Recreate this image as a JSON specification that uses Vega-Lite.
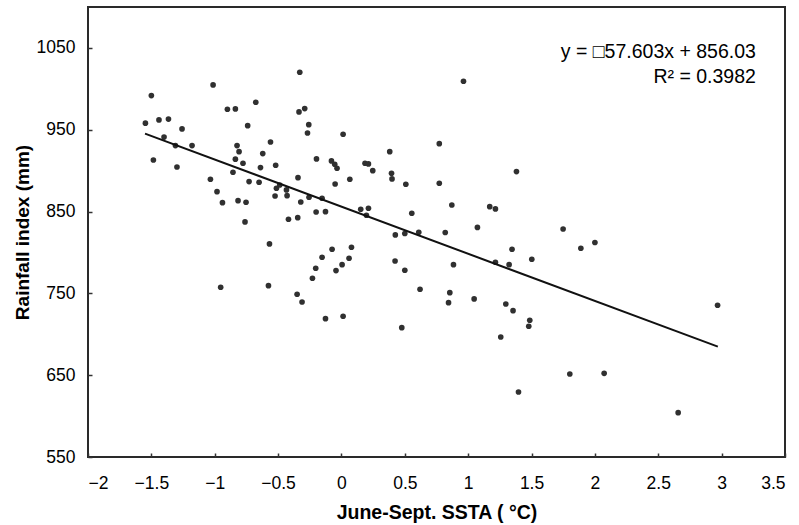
{
  "$schema": "https://vega.github.io/schema/vega-lite/v6.json",
  "width": 697,
  "height": 450,
  "autosize": {"type": "none"},
  "padding": {"left": 88, "top": 7, "right": 14, "bottom": 68},
  "background": "white",
  "config": {
    "view": {"stroke": "#2a2a2a", "strokeWidth": 2},
    "font": "Liberation Sans",
    "axis": {
      "domain": false,
      "grid": false,
      "labelFont": "Liberation Sans",
      "labelFontSize": 17.5,
      "labelColor": "#000",
      "titleFont": "Liberation Sans",
      "titleFontWeight": "bold",
      "titleColor": "#000",
      "tickColor": "#333",
      "tickWidth": 1.5,
      "tickSize": -4
    }
  },
  "datasets": {
    "pts": [
      {"ssta": -1.50, "rain": 991.7}, {"ssta": -1.547, "rain": 958}, {"ssta": -1.44, "rain": 962}, {"ssta": -1.365, "rain": 963},
      {"ssta": -1.258, "rain": 951}, {"ssta": -1.40, "rain": 941}, {"ssta": -1.31, "rain": 930.6}, {"ssta": -1.179, "rain": 930.6},
      {"ssta": -1.484, "rain": 913}, {"ssta": -1.298, "rain": 904.5}, {"ssta": -1.013, "rain": 1004.8}, {"ssta": -0.90, "rain": 975},
      {"ssta": -0.837, "rain": 975.4}, {"ssta": -0.676, "rain": 983.6}, {"ssta": -0.74, "rain": 955}, {"ssta": -0.56, "rain": 935},
      {"ssta": -0.824, "rain": 930.6}, {"ssta": -0.808, "rain": 923.2}, {"ssta": -0.621, "rain": 920.8}, {"ssta": -0.837, "rain": 914},
      {"ssta": -0.777, "rain": 909}, {"ssta": -0.856, "rain": 898}, {"ssta": -0.639, "rain": 903.7}, {"ssta": -0.519, "rain": 906.6},
      {"ssta": -1.034, "rain": 889.5}, {"ssta": -0.729, "rain": 886.6}, {"ssta": -0.65, "rain": 885.8}, {"ssta": -0.982, "rain": 874.3},
      {"ssta": -0.939, "rain": 860.9}, {"ssta": -0.816, "rain": 863.3}, {"ssta": -0.753, "rain": 861.4}, {"ssta": -0.761, "rain": 837.3},
      {"ssta": -0.487, "rain": 882.5}, {"ssta": -0.513, "rain": 878.5}, {"ssta": -0.524, "rain": 869}, {"ssta": -0.434, "rain": 876.4},
      {"ssta": -0.429, "rain": 869.4}, {"ssta": -0.343, "rain": 891.4}, {"ssta": -0.321, "rain": 861.7}, {"ssta": -0.256, "rain": 867.5},
      {"ssta": -0.418, "rain": 840.6}, {"ssta": -0.345, "rain": 842.5}, {"ssta": -0.20, "rain": 849.5}, {"ssta": -0.126, "rain": 849.9},
      {"ssta": -0.153, "rain": 866.3}, {"ssta": -0.329, "rain": 1020.3}, {"ssta": -0.335, "rain": 971.8}, {"ssta": -0.29, "rain": 975.8},
      {"ssta": -0.258, "rain": 956.2}, {"ssta": -0.268, "rain": 946}, {"ssta": 0.013, "rain": 944.5}, {"ssta": -0.197, "rain": 914.3},
      {"ssta": -0.079, "rain": 911.9}, {"ssta": -0.053, "rain": 907.8}, {"ssta": -0.035, "rain": 902.9}, {"ssta": -0.05, "rain": 883.7},
      {"ssta": 0.066, "rain": 889.5}, {"ssta": 0.186, "rain": 909}, {"ssta": 0.213, "rain": 908.2}, {"ssta": 0.247, "rain": 900},
      {"ssta": 0.381, "rain": 923.2}, {"ssta": 0.395, "rain": 896.8}, {"ssta": 0.399, "rain": 889.9}, {"ssta": 0.508, "rain": 883.4},
      {"ssta": 0.152, "rain": 852.8}, {"ssta": 0.213, "rain": 854}, {"ssta": 0.197, "rain": 845.5}, {"ssta": 0.555, "rain": 847.9},
      {"ssta": 0.425, "rain": 821.4}, {"ssta": 0.50, "rain": 823.2}, {"ssta": 0.61, "rain": 824.7}, {"ssta": 0.772, "rain": 933},
      {"ssta": 0.772, "rain": 884.6}, {"ssta": 0.963, "rain": 1009.3}, {"ssta": 1.381, "rain": 898.8}, {"ssta": 0.871, "rain": 858},
      {"ssta": 1.17, "rain": 856}, {"ssta": 1.215, "rain": 853.2}, {"ssta": 0.819, "rain": 824.4}, {"ssta": 1.073, "rain": 830.6},
      {"ssta": 1.749, "rain": 828.7}, {"ssta": 2.0, "rain": 812.2}, {"ssta": 1.346, "rain": 803.9}, {"ssta": 1.889, "rain": 805.1},
      {"ssta": 0.884, "rain": 785.1}, {"ssta": 1.215, "rain": 788}, {"ssta": 1.323, "rain": 785.1}, {"ssta": 1.502, "rain": 791.7},
      {"ssta": 0.855, "rain": 750.9}, {"ssta": 0.845, "rain": 738.6}, {"ssta": 1.047, "rain": 743.2}, {"ssta": 1.297, "rain": 737},
      {"ssta": 1.354, "rain": 728.9}, {"ssta": 1.486, "rain": 717.1}, {"ssta": 1.478, "rain": 709.8}, {"ssta": 1.257, "rain": 696.7},
      {"ssta": 2.968, "rain": 735.5}, {"ssta": 1.802, "rain": 651.5}, {"ssta": 2.073, "rain": 652.3}, {"ssta": 1.397, "rain": 629.5},
      {"ssta": 2.657, "rain": 604.2}, {"ssta": -0.568, "rain": 810.4}, {"ssta": -0.953, "rain": 757.5}, {"ssta": -0.576, "rain": 759.4},
      {"ssta": -0.35, "rain": 748.9}, {"ssta": -0.311, "rain": 739.5}, {"ssta": -0.229, "rain": 768.5}, {"ssta": -0.203, "rain": 780.7},
      {"ssta": -0.153, "rain": 794.1}, {"ssta": -0.074, "rain": 803.9}, {"ssta": -0.043, "rain": 777.8}, {"ssta": 0.005, "rain": 785.1},
      {"ssta": 0.06, "rain": 792.9}, {"ssta": 0.079, "rain": 806.4}, {"ssta": -0.126, "rain": 719.1}, {"ssta": 0.013, "rain": 722},
      {"ssta": 0.423, "rain": 789.6}, {"ssta": 0.50, "rain": 778.2}, {"ssta": 0.62, "rain": 755}, {"ssta": 0.476, "rain": 708.1}
    ],
    "fit": [
      {"ssta": -1.55, "rain": 945.3},
      {"ssta": 2.97, "rain": 684.9}
    ],
    "notes": [
      {"ssta": 3.27, "rain": 1045, "label": "y = □57.603x + 856.03"},
      {"ssta": 3.27, "rain": 1015, "label": "R² = 0.3982"}
    ]
  },
  "layer": [
    {
      "data": {"name": "pts"},
      "mark": {"type": "circle", "size": 32, "color": "#303030", "opacity": 1},
      "encoding": {
        "x": {
          "field": "ssta", "type": "quantitative",
          "scale": {"domain": [-2, 3.5], "nice": false, "zero": false},
          "axis": {"values": [-2, -1.5, -1, -0.5, 0, 0.5, 1, 1.5, 2, 2.5, 3, 3.5], "format": "~g", "labelPadding": 21, "title": "June-Sept. SSTA ( °C)", "titleFontSize": 19.5, "titlePadding": 12}
        },
        "y": {
          "field": "rain", "type": "quantitative",
          "scale": {"domain": [550, 1100], "nice": false, "zero": false},
          "axis": {"values": [550, 650, 750, 850, 950, 1050], "format": "d", "labelPadding": 17, "title": "Rainfall index (mm)", "titleFontSize": 19, "titlePadding": 4}
        }
      }
    },
    {
      "data": {"name": "fit"},
      "mark": {"type": "line", "color": "#111111", "strokeWidth": 2},
      "encoding": {
        "x": {"field": "ssta", "type": "quantitative"},
        "y": {"field": "rain", "type": "quantitative"}
      }
    },
    {
      "data": {"name": "notes"},
      "mark": {"type": "text", "align": "right", "baseline": "middle", "fontSize": 19.5, "font": "Liberation Sans", "color": "#000"},
      "encoding": {
        "x": {"field": "ssta", "type": "quantitative"},
        "y": {"field": "rain", "type": "quantitative"},
        "text": {"field": "label"}
      }
    }
  ]
}
